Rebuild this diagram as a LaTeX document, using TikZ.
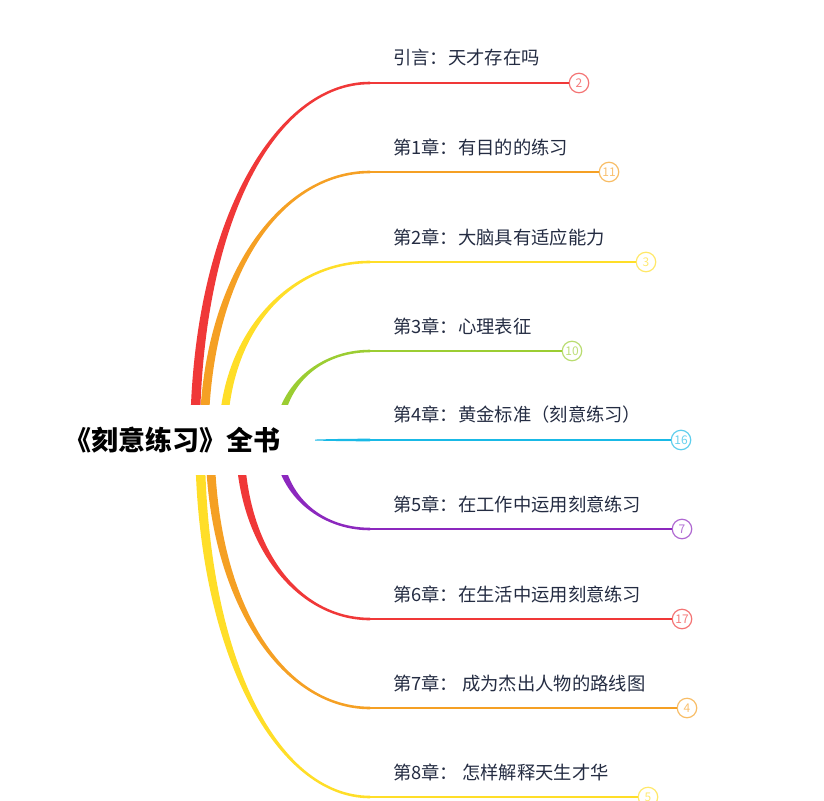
\documentclass[tikz,border=0pt]{standalone}
\usepackage{fontspec}
\setmainfont{Noto Sans CJK SC}
\usetikzlibrary{calc}
\definecolor{labelink}{RGB}{36,44,66}
\definecolor{brred}{RGB}{240,56,56}
\definecolor{brorange}{RGB}{245,160,36}
\definecolor{bryellow}{RGB}{255,222,40}
\definecolor{brgreen}{RGB}{155,205,50}
\definecolor{brcyan}{RGB}{25,185,230}
\definecolor{brpurple}{RGB}{140,40,190}
\tikzset{
  topic/.style={anchor=west, inner sep=0pt, text=labelink,
    font=\fontsize{18.3}{18}\selectfont},
  pagemark/.style={circle, draw=#1!70, fill=white, line width=1.2pt,
    minimum size=19.5pt, inner sep=0pt, text=#1!65,
    font=\fontsize{12}{12}\selectfont},
  central/.style={fill=white, minimum width=286pt, minimum height=70pt,
    font=\fontsize{27}{27}\selectfont\bfseries},
}
\begin{document}
\begin{tikzpicture}[x=1pt, y=-1pt]
    \useasboundingbox (0,0) rectangle (824,800);
    \coordinate (rootpos) at (172,440);

    % branches: tapered curve, line to the page mark, label
    \foreach \i/\ey/\cx/\sx/\w/\col/\num/\txt in {
        1/83/579/195/4.8/brred/2/{引言：天才存在吗},
        2/172/609/204/4.5/brorange/11/{第1章：有目的的练习},
        3/262/646/223/4.3/bryellow/3/{第2章：大脑具有适应能力},
        4/351/572/278/3.8/brgreen/10/{第3章：心理表征},
        5/440/681/300/2.6/brcyan/16/{第4章：黄金标准（刻意练习）},
        6/529/682/278/3.8/brpurple/7/{第5章：在工作中运用刻意练习},
        7/619/682/240/4.3/brred/17/{第6章：在生活中运用刻意练习},
        8/708/687/210/4.5/brorange/4/{第7章： 成为杰出人物的路线图},
        9/797/648/200/4.8/bryellow/5/{第8章： 怎样解释天生才华}}{
      \pgfmathsetmacro\h{\ey<440 ? -1.3 : 1.3}
      \coordinate (s\i) at (\sx,440);
      \coordinate (e\i) at (370,\ey);
      \fill[\col] (\sx-\w,440)
          .. controls (\sx-\w,{440-0.6*(440-\ey)}) and ({\sx+0.45*(370-\sx)},\ey+\h)
          .. (370,\ey+\h) -- (370,\ey-\h)
          .. controls ({\sx+0.45*(370-\sx)},\ey-\h) and (\sx+\w,{440-0.6*(440-\ey)})
          .. (\sx+\w,440) -- cycle;
      \node[pagemark=\col] (c\i) at (\cx,\ey) {\num};
      \draw[\col, line width=2pt] (e\i) -- (c\i);
      \node[topic] (l\i) at (393,\ey-25) {\txt};
    }

    % central topic on top of the branch roots
    \node[central] (root) at (rootpos) {《刻意练习》全书};
\end{tikzpicture}
\end{document}
